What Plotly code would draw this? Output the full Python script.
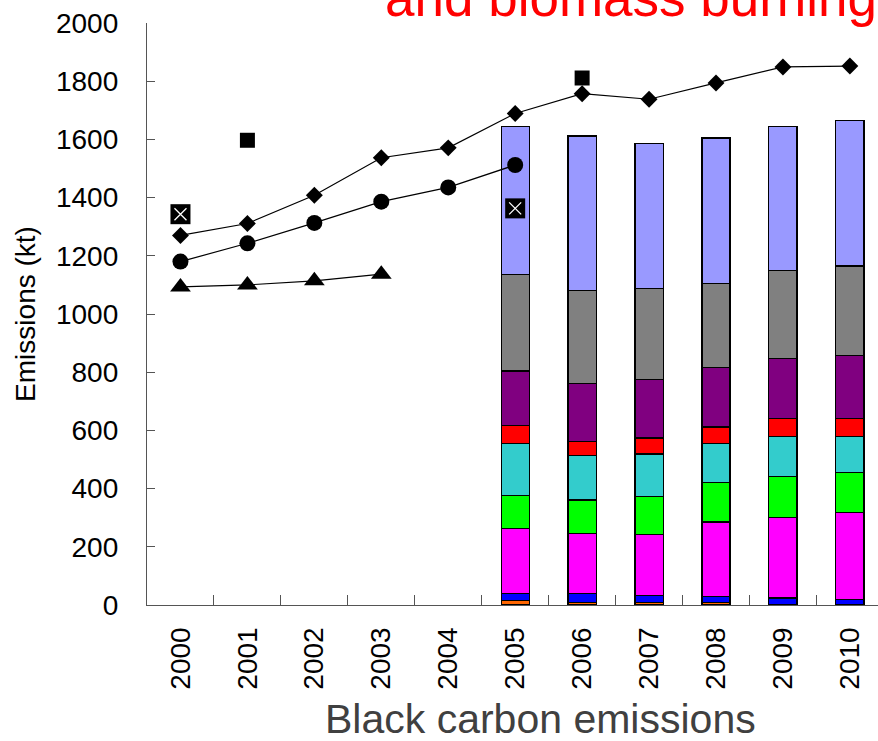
import plotly.graph_objects as go

years = [str(y) for y in range(2000, 2011)]
bar_years = ["2005", "2006", "2007", "2008", "2009", "2010"]

# stacked sector values (kt), bottom to top
orange = [15, 9, 9, 8, 2, 2]
blue = [24, 30, 24, 20, 22, 16]
magenta = [223, 207, 208, 257, 277, 301]
green = [114, 115, 131, 136, 140, 135]
cyan = [180, 153, 147, 135, 138, 126]
red = [61, 49, 55, 56, 62, 61]
purple = [187, 197, 202, 203, 206, 216]
gray = [332, 322, 311, 289, 302, 308]
lavender = [509, 530, 498, 501, 496, 501]

stack_series = [
    (orange, "#FF6600"),
    (blue, "#0000FF"),
    (magenta, "#FF00FF"),
    (green, "#00FF00"),
    (cyan, "#33CCCC"),
    (red, "#FF0000"),
    (purple, "#800080"),
    (gray, "#808080"),
    (lavender, "#9999FF"),
]

# other inventories
diamond_years = years
diamond_vals = [1270, 1311, 1408, 1537, 1571, 1689, 1757, 1738, 1794, 1849, 1852]
circle_years = ["2000", "2001", "2002", "2003", "2004", "2005"]
circle_vals = [1180, 1243, 1313, 1386, 1435, 1512]
triangle_years = ["2000", "2001", "2002", "2003"]
triangle_vals = [1093, 1100, 1114, 1137]
square_years = ["2001", "2006"]
square_vals = [1597, 1811]
xbox_years = ["2000", "2005"]
xbox_vals = [1343, 1363]

FONT = "Liberation Sans, Arial, sans-serif"

fig = go.Figure()
for vals, col in stack_series:
    fig.add_trace(go.Bar(
        x=bar_years, y=vals, width=0.42,
        marker=dict(color=col, line=dict(color="black", width=1.2)),
        showlegend=False,
    ))

fig.add_trace(go.Scatter(
    x=diamond_years, y=diamond_vals, mode="lines+markers",
    line=dict(color="black", width=1.2),
    marker=dict(symbol="diamond", size=13, color="black"),
    showlegend=False,
))
fig.add_trace(go.Scatter(
    x=circle_years, y=circle_vals, mode="lines+markers",
    line=dict(color="black", width=1.2),
    marker=dict(symbol="circle", size=16, color="black"),
    showlegend=False,
))
fig.add_trace(go.Scatter(
    x=triangle_years, y=triangle_vals, mode="lines+markers",
    line=dict(color="black", width=1.2),
    marker=dict(symbol="triangle-up", size=18, color="black"),
    showlegend=False,
))
fig.add_trace(go.Scatter(
    x=square_years, y=square_vals, mode="markers",
    marker=dict(symbol="square", size=15, color="black"),
    showlegend=False,
))
fig.add_trace(go.Scatter(
    x=xbox_years, y=xbox_vals, mode="markers",
    marker=dict(symbol="square", size=20, color="black"),
    showlegend=False,
))
fig.add_trace(go.Scatter(
    x=xbox_years, y=xbox_vals, mode="markers",
    marker=dict(symbol="x-thin-open", size=12, color="white",
                line=dict(color="white", width=1.3)),
    showlegend=False,
))

fig.update_layout(
    width=878, height=741,
    margin=dict(l=147, r=0, t=23, b=136),
    paper_bgcolor="white", plot_bgcolor="white",
    barmode="stack",
    font=dict(family=FONT, color="black"),
    xaxis=dict(
        type="category", categoryorder="array", categoryarray=years,
        range=[-0.5, 10.42],
        showline=True, linecolor="#555555", linewidth=1.3,
        ticks="inside", tickson="boundaries", ticklen=10,
        tickcolor="#555555", tickwidth=1.3,
        tickangle=-90, tickfont=dict(size=28, color="black"),
        ticklabelstandoff=10,
        showgrid=False, zeroline=False,
    ),
    yaxis=dict(
        range=[0, 2000], tickvals=list(range(0, 2001, 200)),
        showline=True, linecolor="#555555", linewidth=1.3,
        ticks="inside", ticklen=8, tickcolor="#555555", tickwidth=1.3,
        tickfont=dict(size=28, color="black"),
        ticklabelstandoff=22,
        showgrid=False, zeroline=False,
        title=dict(text="Emissions (kt)", font=dict(size=28, color="black"),
                   standoff=12),
    ),
)

# x-axis title (offset to the right, as in the original)
fig.add_annotation(
    text="Black carbon emissions", xref="paper", yref="paper",
    x=(540 - 147) / 731, y=-(719 - 605) / 582,
    xanchor="center", yanchor="middle", showarrow=False,
    font=dict(size=41, color="#404040", family=FONT),
)

fig.add_annotation(
    text="and biomass burning", xref="paper", yref="paper",
    x=(383 - 147) / 731, y=1 + (23 - 29) / 582,
    xanchor="left", yanchor="bottom", showarrow=False,
    font=dict(size=53, color="#FF0000", family=FONT),
)

fig.write_html("out.html")
